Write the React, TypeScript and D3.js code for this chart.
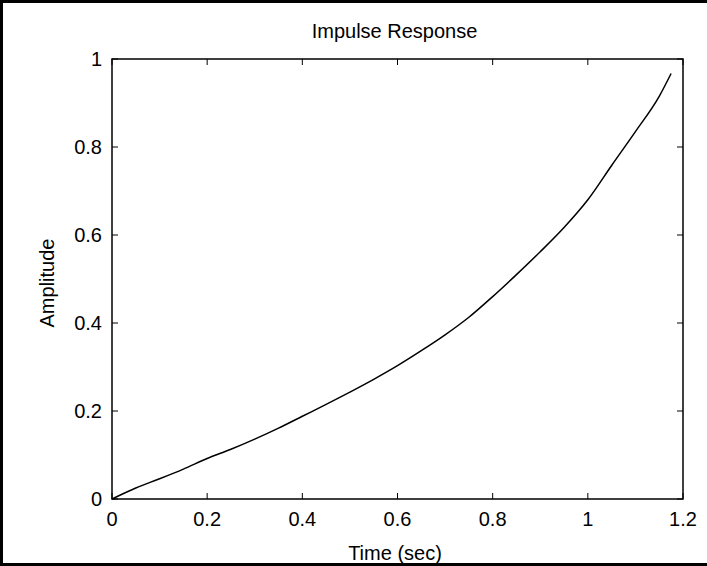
import React from "react";
import * as d3 from "d3";

const title = "Impulse Response";
const xLabel = "Time (sec)";
const yLabel = "Amplitude";
const xTicks = [0, 0.2, 0.4, 0.6, 0.8, 1, 1.2];
const yTicks = [0, 0.2, 0.4, 0.6, 0.8, 1];
const timeValues = [0, 0.05, 0.1, 0.15, 0.2, 0.25, 0.3, 0.35, 0.4, 0.45, 0.5, 0.55, 0.6, 0.65, 0.7, 0.75, 0.8, 0.85, 0.9, 0.95, 1.0, 1.05, 1.1, 1.15, 1.175];
const amplitudeValues = [0, 0.025, 0.046, 0.068, 0.092, 0.113, 0.136, 0.161, 0.188, 0.215, 0.243, 0.272, 0.303, 0.337, 0.373, 0.413, 0.46, 0.51, 0.562, 0.617, 0.68, 0.758, 0.835, 0.915, 0.967];

const W = 707;
const H = 566;
const left = 112;
const right = 683;
const top = 59;
const bottom = 499;
const font = "'Liberation Sans', Arial, Helvetica, sans-serif";

export default function App() {
  const x = d3.scaleLinear().domain([0, 1.2]).range([left, right]);
  const y = d3.scaleLinear().domain([0, 1]).range([bottom, top]);
  const pts: [number, number][] = timeValues.map((t, i) => [t, amplitudeValues[i]]);
  const line = d3
    .line<[number, number]>()
    .x((d) => x(d[0]))
    .y((d) => y(d[1]))
    .curve(d3.curveMonotoneX);
  const tl = 6;
  return (
    <svg
      width={W}
      height={H}
      style={{ position: "absolute", left: 0, top: 0, background: "#fff" }}
      fontFamily={font}
    >
      <rect x={0} y={0} width={W} height={H} fill="#fff" />
      {/* outer frame */}
      <line x1={0} y1={1.5} x2={W} y2={1.5} stroke="#000" strokeWidth={3} />
      <line x1={1.5} y1={0} x2={1.5} y2={H} stroke="#000" strokeWidth={3} />
      <line x1={0} y1={H - 1.5} x2={W} y2={H - 1.5} stroke="#000" strokeWidth={3} />
      {/* plot box */}
      <rect x={left} y={top} width={right - left} height={bottom - top} fill="#fff" stroke="#000" strokeWidth={1.5} />
      {xTicks.map((t) => (
        <g key={"x" + t}>
          <line x1={x(t)} x2={x(t)} y1={bottom} y2={bottom - tl} stroke="#000" strokeWidth={1} />
          <line x1={x(t)} x2={x(t)} y1={top} y2={top + tl} stroke="#000" strokeWidth={1} />
          <text x={x(t)} y={526} textAnchor="middle" fontSize={20} fill="#000">
            {d3.format("~g")(t)}
          </text>
        </g>
      ))}
      {yTicks.map((t) => (
        <g key={"y" + t}>
          <line x1={left} x2={left + tl} y1={y(t)} y2={y(t)} stroke="#000" strokeWidth={1} />
          <line x1={right} x2={right - tl} y1={y(t)} y2={y(t)} stroke="#000" strokeWidth={1} />
          <text x={102} y={y(t)} dy="0.36em" textAnchor="end" fontSize={20} fill="#000">
            {d3.format("~g")(t)}
          </text>
        </g>
      ))}
      <path d={line(pts) || ""} fill="none" stroke="#000" strokeWidth={1.5} />
      <text x={(left + right) / 2 - 3} y={38} textAnchor="middle" fontSize={20} fill="#000">
        {title}
      </text>
      <text x={395} y={560} textAnchor="middle" fontSize={20} fill="#000">
        {xLabel}
      </text>
      <text
        transform={`translate(54, ${(top + bottom) / 2 + 4}) rotate(-90)`}
        textAnchor="middle"
        fontSize={20}
        fill="#000"
      >
        {yLabel}
      </text>
    </svg>
  );
}
